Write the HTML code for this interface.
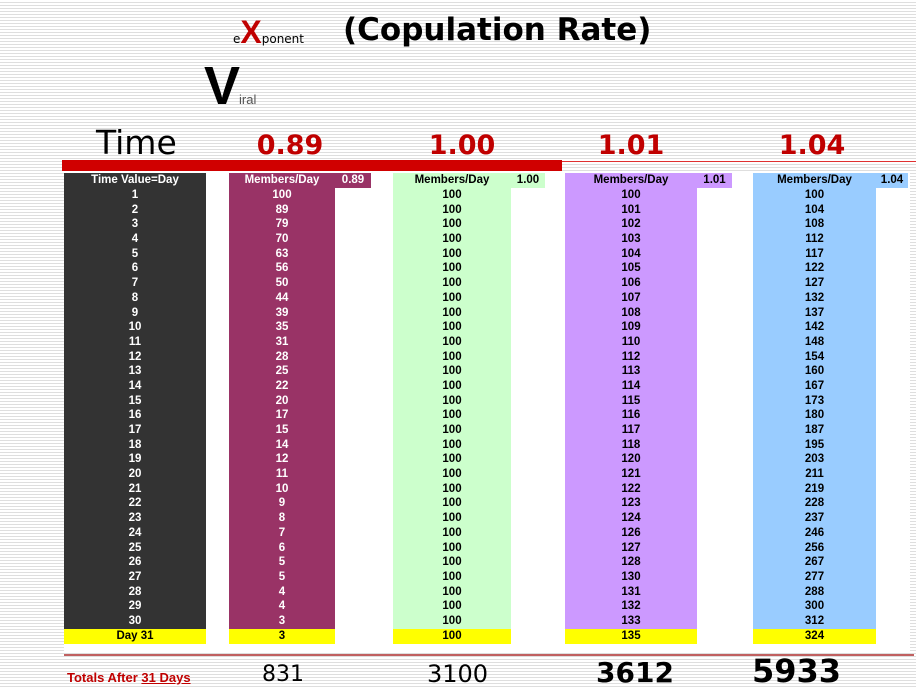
<!DOCTYPE html>
<html><head><meta charset="utf-8"><style>
body{margin:0;width:916px;height:689px;overflow:hidden;position:relative;font-family:"Liberation Sans",sans-serif;
background:repeating-linear-gradient(to bottom,#fff 0,#fff 2px,#dedede 2px,#dedede 3px);}
.a{position:absolute}
.white{left:64px;top:171px;width:846px;height:480px;background:#fff}
.col{position:absolute;top:173px;font-weight:bold;font-size:11.5px;text-align:center;line-height:14.69px;}
.col .h{height:15px;line-height:15px}
.col .y{background:#ff0;color:#000;height:15px;line-height:15px}
.lab{position:absolute;top:173px;height:15px;line-height:15px;font-size:11.5px;font-weight:bold;text-align:center}
.v{position:absolute;top:130px;font-family:"DejaVu Sans",sans-serif;font-weight:bold;color:#c00000;font-size:27px;text-align:center;width:120px}
</style></head><body>
<div class="a white"></div>
<div class="a" style="left:233px;top:14px;font-family:'DejaVu Sans',sans-serif;white-space:nowrap">
<span style="font-size:12px">e</span><span style="font-size:32px;font-weight:bold;color:#c00000;font-family:'Liberation Sans',sans-serif">X</span><span style="font-size:12px">ponent</span>
</div>
<div class="a" style="left:343px;top:12px;font-family:'DejaVu Sans',sans-serif;font-weight:bold;font-size:31px;white-space:nowrap">(Copulation Rate)</div>
<div class="a" style="left:204px;top:56px;font-weight:bold;font-size:54px;line-height:60px">V</div>
<div class="a" style="left:239px;top:92px;font-size:13px;color:#555">iral</div>
<div class="a" style="left:96px;top:124px;font-family:'DejaVu Sans',sans-serif;font-size:33px;line-height:38px">Time</div>
<div class="v" style="left:230px">0.89</div>
<div class="v" style="left:402px">1.00</div>
<div class="v" style="left:571px">1.01</div>
<div class="v" style="left:752px">1.04</div>
<div class="a" style="left:62px;top:160px;width:500px;height:11px;background:#d00000"></div>
<div class="a" style="left:562px;top:161px;width:354px;height:1px;background:#e03030"></div>

<div class="col" style="left:64px;width:142px;background:#333;color:#fff"><div class="h">Time Value=Day</div>1<br>2<br>3<br>4<br>5<br>6<br>7<br>8<br>9<br>10<br>11<br>12<br>13<br>14<br>15<br>16<br>17<br>18<br>19<br>20<br>21<br>22<br>23<br>24<br>25<br>26<br>27<br>28<br>29<br>30<div class="y">Day 31</div></div>

<div class="col" style="left:229px;width:106px;background:#993366;color:#fff"><div class="h">Members/Day</div>100<br>89<br>79<br>70<br>63<br>56<br>50<br>44<br>39<br>35<br>31<br>28<br>25<br>22<br>20<br>17<br>15<br>14<br>12<br>11<br>10<br>9<br>8<br>7<br>6<br>5<br>5<br>4<br>4<br>3<div class="y">3</div></div>
<div class="lab" style="left:335px;width:36px;background:#993366;color:#fff">0.89</div>

<div class="col" style="left:393px;width:118px;background:#ccffcc;color:#000"><div class="h">Members/Day</div>100<br>100<br>100<br>100<br>100<br>100<br>100<br>100<br>100<br>100<br>100<br>100<br>100<br>100<br>100<br>100<br>100<br>100<br>100<br>100<br>100<br>100<br>100<br>100<br>100<br>100<br>100<br>100<br>100<br>100<div class="y">100</div></div>
<div class="lab" style="left:511px;width:34px;background:#ccffcc">1.00</div>

<div class="col" style="left:565px;width:132px;background:#cc99ff;color:#000"><div class="h">Members/Day</div>100<br>101<br>102<br>103<br>104<br>105<br>106<br>107<br>108<br>109<br>110<br>112<br>113<br>114<br>115<br>116<br>117<br>118<br>120<br>121<br>122<br>123<br>124<br>126<br>127<br>128<br>130<br>131<br>132<br>133<div class="y">135</div></div>
<div class="lab" style="left:697px;width:35px;background:#cc99ff">1.01</div>

<div class="col" style="left:753px;width:123px;background:#99ccff;color:#000"><div class="h">Members/Day</div>100<br>104<br>108<br>112<br>117<br>122<br>127<br>132<br>137<br>142<br>148<br>154<br>160<br>167<br>173<br>180<br>187<br>195<br>203<br>211<br>219<br>228<br>237<br>246<br>256<br>267<br>277<br>288<br>300<br>312<div class="y">324</div></div>
<div class="lab" style="left:876px;width:32px;background:#99ccff">1.04</div>

<div class="a" style="left:64px;top:654px;width:850px;height:2px;background:#c06060"></div>
<div class="a" style="left:67px;top:670px;font-size:13px;font-weight:bold;color:#c00000;white-space:nowrap">Totals After <u>31 Days</u></div>
<div class="a" style="left:262px;top:662px;font-family:'DejaVu Sans',sans-serif;font-size:22px">831</div>
<div class="a" style="left:427px;top:660px;font-family:'DejaVu Sans',sans-serif;font-size:24px">3100</div>
<div class="a" style="left:596px;top:656px;font-family:'DejaVu Sans',sans-serif;font-weight:bold;font-size:28px">3612</div>
<div class="a" style="left:752px;top:652px;font-family:'DejaVu Sans',sans-serif;font-weight:bold;font-size:32px">5933</div>
</body></html>
